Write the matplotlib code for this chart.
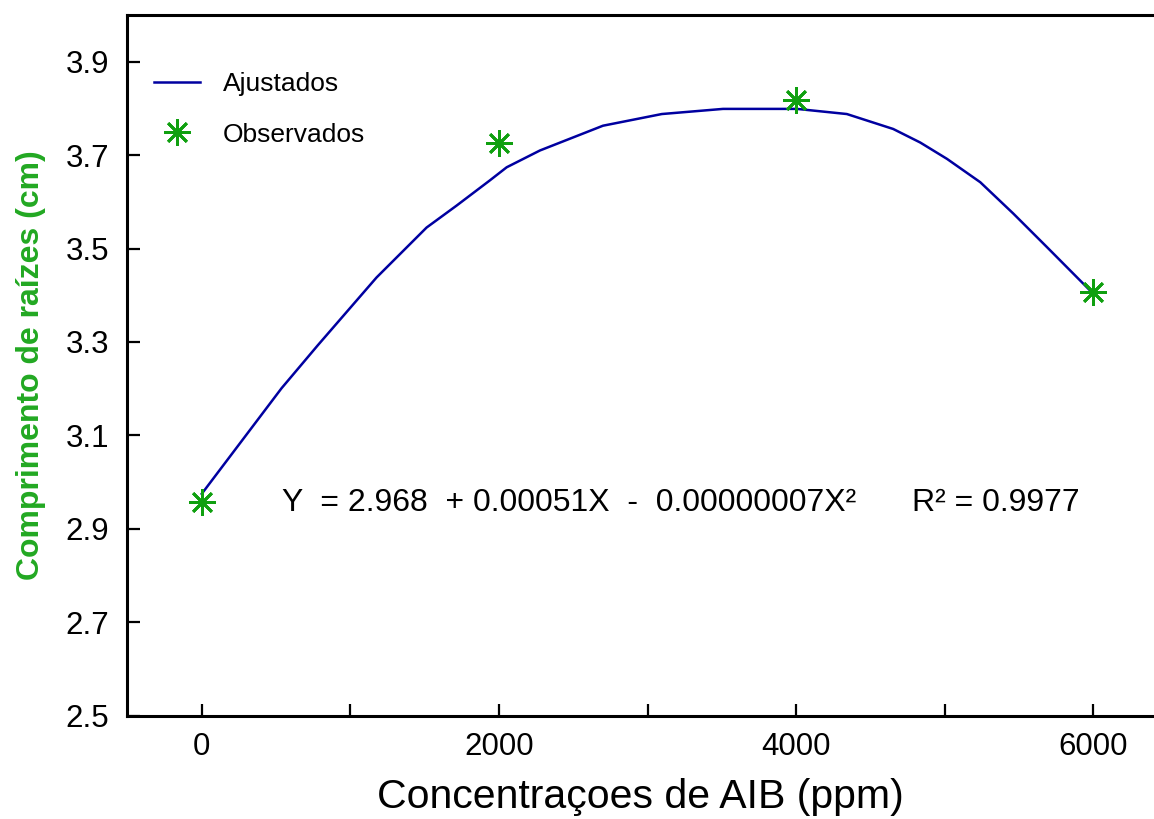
import matplotlib
matplotlib.use("Agg")
import matplotlib.pyplot as plt
from matplotlib.lines import Line2D

# Observed data
obs_x = [0, 2000, 4000, 6000]
obs_y = [2.957, 3.725, 3.818, 3.406]

# Fitted curve (as drawn)
fit_x = [0, 537, 781, 1176, 1513, 1715, 1939, 2052, 2276, 2700, 3096, 3508,
         4005, 4341, 4653, 4835, 5015, 5239, 5461, 5688, 5991]
fit_y = [2.975, 3.201, 3.293, 3.438, 3.545, 3.592, 3.646, 3.674, 3.710, 3.763,
         3.788, 3.799, 3.799, 3.788, 3.756, 3.727, 3.692, 3.642, 3.575, 3.503, 3.406]

x_ticks = [0, 1000, 2000, 3000, 4000, 5000, 6000]
x_tick_labels = ["0", "", "2000", "", "4000", "", "6000"]
y_ticks = [2.5, 2.7, 2.9, 3.1, 3.3, 3.5, 3.7, 3.9]
y_tick_labels = ["2.5", "2.7", "2.9", "3.1", "3.3", "3.5", "3.7", "3.9"]

plt.rcParams['font.family'] = ['Liberation Sans', 'DejaVu Sans']

W, H = 1154, 819
fig = plt.figure(figsize=(W / 100, H / 100), dpi=100)
ax = fig.add_axes([127 / W, 1 - 715.7 / H, (W - 127) / W, (715.7 - 15) / H])

line_color = '#0000a0'
star_color = '#10a010'

ax.plot(fit_x, fit_y, color=line_color, lw=1.8, zorder=2)
ax.plot(obs_x, obs_y, linestyle='none', marker=(8, 2, 0), markersize=19,
        markeredgewidth=2.0, color=star_color, zorder=3)

ax.set_xlim(-503, 6408)
ax.set_ylim(2.5, 4.0)

ax.set_xticks(x_ticks)
ax.set_xticklabels(x_tick_labels)
ax.set_yticks(y_ticks)
ax.set_yticklabels(y_tick_labels)

ax.tick_params(axis='both', direction='in', length=9, width=1.6, labelsize=22.5)
ax.tick_params(axis='x', pad=12)
ax.tick_params(axis='y', pad=13)

for s in ['left', 'bottom', 'top']:
    ax.spines[s].set_linewidth(2.2)
ax.spines['right'].set_visible(False)

ax.set_xlabel("Concentraçoes de AIB (ppm)", fontsize=29.5, labelpad=11)
ax.set_ylabel("Comprimento de raízes (cm)", fontsize=23, fontweight='bold',
              color='#22a822', labelpad=14)

ax.text(540, 2.955, "Y  = 2.968  + 0.00051X  -  0.00000007X²", fontsize=23,
        va='center', ha='left')
ax.text(4780, 2.955, "R² = 0.9977", fontsize=23, va='center', ha='left')

handles = [Line2D([], [], color=line_color, lw=1.8),
           Line2D([], [], linestyle='none', marker=(8, 2, 0), markersize=19,
                  markeredgewidth=2.0, color=star_color)]
leg = ax.legend(handles, ["Ajustados", "Observados"], loc='upper left',
                bbox_to_anchor=(133 / W, 1 - 51 / H), bbox_transform=fig.transFigure,
                frameon=False, fontsize=19, handlelength=1.75, handletextpad=0.85,
                labelspacing=1.0, borderpad=0.3)

fig.savefig("out.png", dpi=100)
